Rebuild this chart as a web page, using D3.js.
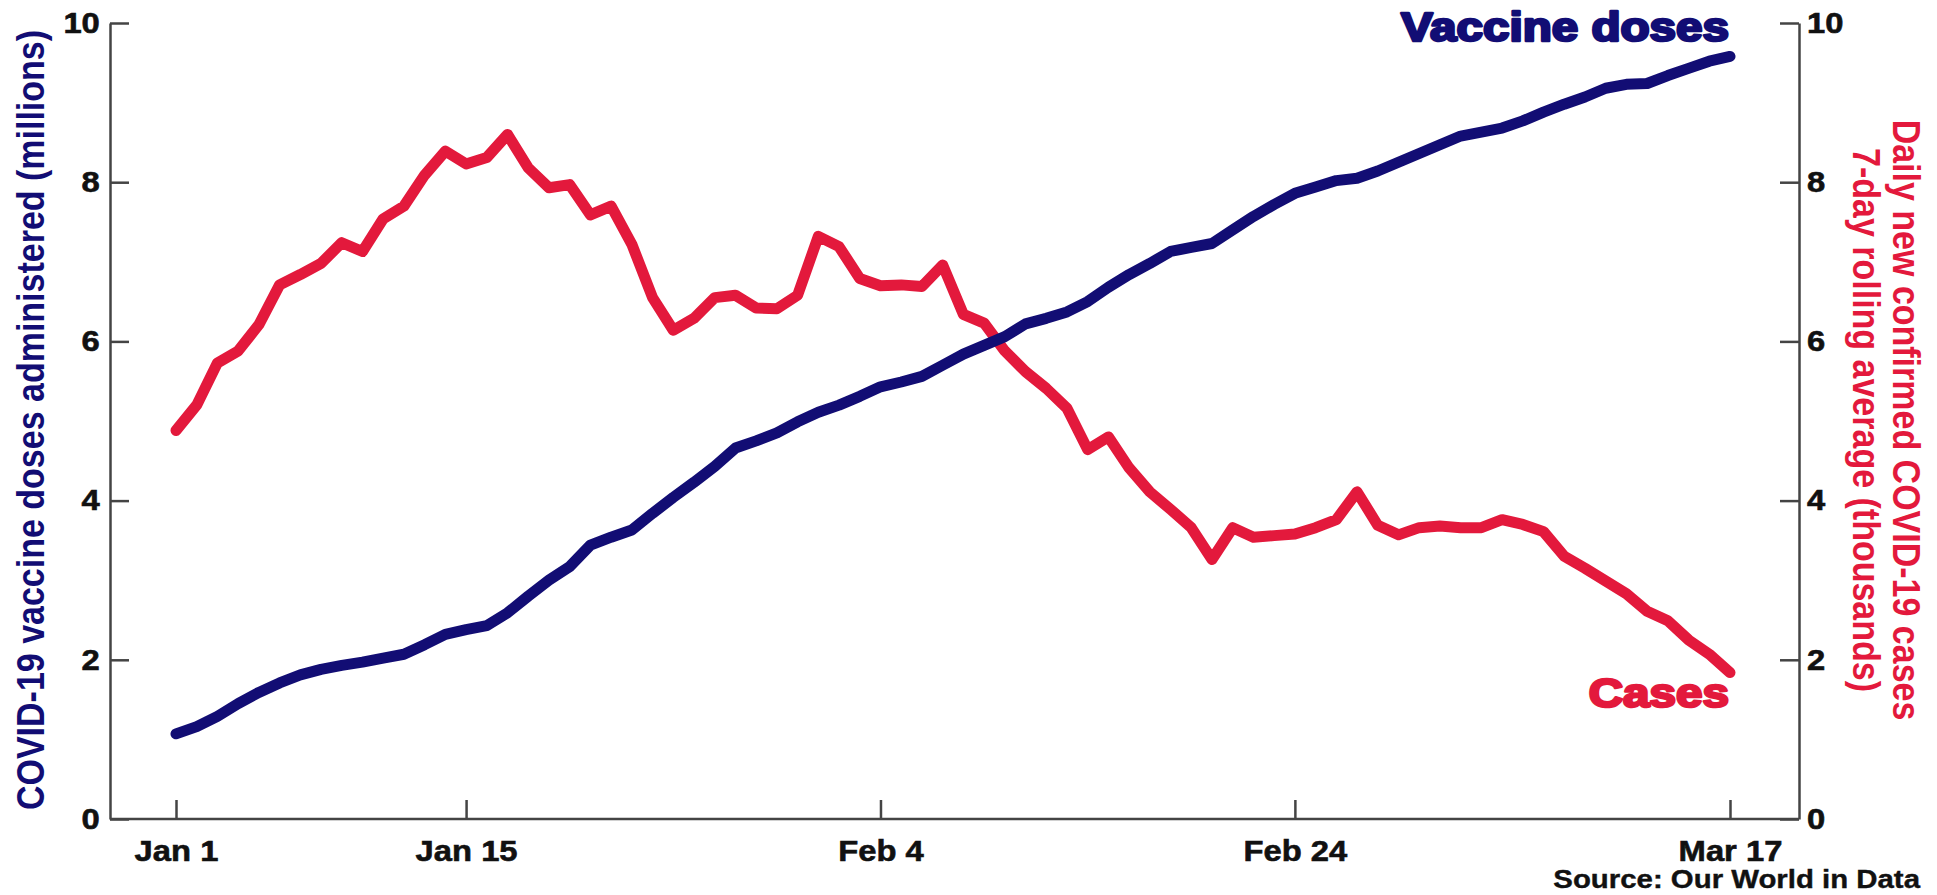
<!DOCTYPE html>
<html>
<head>
<meta charset="utf-8">
<script src="https://cdn.jsdelivr.net/npm/d3@7"></script>
<style>
  body { margin: 0; background: #fff; }
  text { font-family: "Liberation Sans", Arial, Helvetica, sans-serif; font-weight: bold; }
</style>
</head>
<body>
<div id="chart"></div>
<script>
// daily values, Jan 1 - Mar 17 2021
var vaccineDoses = [
  1.07, 1.16, 1.29, 1.45, 1.59, 1.71, 1.81, 1.88, 1.93, 1.97,
  2.02, 2.07, 2.19, 2.32, 2.38, 2.43, 2.59, 2.80, 3.00, 3.17,
  3.44, 3.54, 3.63, 3.84, 4.04, 4.23, 4.43, 4.66, 4.75, 4.85,
  4.99, 5.11, 5.20, 5.31, 5.43, 5.49, 5.56, 5.70, 5.84, 5.95,
  6.06, 6.22, 6.29, 6.37, 6.50, 6.68, 6.84, 6.98, 7.13, 7.18,
  7.23, 7.40, 7.57, 7.72, 7.86, 7.94, 8.02, 8.05, 8.14, 8.25,
  8.36, 8.47, 8.58, 8.63, 8.68, 8.77, 8.88, 8.98, 9.07, 9.18,
  9.23, 9.24, 9.34, 9.43, 9.52, 9.58
];

var cases = [
  4.88, 5.20, 5.73, 5.88, 6.21, 6.71, 6.84, 6.98, 7.24, 7.13,
  7.54, 7.70, 8.09, 8.39, 8.23, 8.31, 8.60, 8.18, 7.93, 7.97,
  7.59, 7.70, 7.22, 6.55, 6.14, 6.29, 6.55, 6.58, 6.42, 6.41,
  6.58, 7.32, 7.19, 6.79, 6.70, 6.71, 6.69, 6.96, 6.34, 6.23,
  5.88, 5.62, 5.41, 5.16, 4.64, 4.80, 4.41, 4.11, 3.89, 3.66,
  3.26, 3.66, 3.54, 3.56, 3.58, 3.66, 3.76, 4.11, 3.69, 3.57,
  3.66, 3.68, 3.66, 3.66, 3.76, 3.70, 3.61, 3.30, 3.15, 2.99,
  2.83, 2.61, 2.49, 2.25, 2.07, 1.84
];

var tickDates = ["2021-01-01", "2021-01-15", "2021-02-04", "2021-02-24", "2021-03-17"];
var tickLabels = ["Jan 1", "Jan 15", "Feb 4", "Feb 24", "Mar 17"];
var yTicks = [0, 2, 4, 6, 8, 10];

var navy = "#120d74",
    red = "#e3193c",
    axisColor = "#444";

var stretch = "scale(1.13,1)";  // the source fonts are set a little wide

var margin = {top: 23, right: 138, bottom: 76, left: 110},
    width = 1937 - margin.left - margin.right,
    height = 895 - margin.top - margin.bottom;

var parseDate = d3.timeParse("%Y-%m-%d");
var startDate = parseDate(tickDates[0]),
    endDate = parseDate(tickDates[tickDates.length - 1]);
var dates = d3.timeDay.range(startDate, d3.timeDay.offset(endDate, 1));

var doseData = dates.map(function(d, i) { return {date: d, value: vaccineDoses[i]}; });
var caseData = dates.map(function(d, i) { return {date: d, value: cases[i]}; });

var x = d3.scaleTime().domain([startDate, endDate]).range([66, 1620]);
var yLeft = d3.scaleLinear().domain([0, 10]).range([height, 0]);
var yRight = d3.scaleLinear().domain([0, 10]).range([height, 0]);

var xAxis = d3.axisBottom(x)
    .tickValues(tickDates.map(parseDate))
    .tickFormat(function(d, i) { return tickLabels[i]; })
    .tickSizeInner(-19).tickSizeOuter(0).tickPadding(21);

var yAxisLeft = d3.axisLeft(yLeft)
    .tickValues(yTicks).tickFormat(d3.format("d"))
    .tickSizeInner(-19).tickSizeOuter(0).tickPadding(9);

var yAxisRight = d3.axisRight(yRight)
    .tickValues(yTicks).tickFormat(d3.format("d"))
    .tickSizeInner(-19).tickSizeOuter(0).tickPadding(7);

var svgRoot = d3.select("#chart").append("svg")
    .attr("width", width + margin.left + margin.right)
    .attr("height", height + margin.top + margin.bottom)
    .style("display", "block")
    .style("background", "#fff");

var svg = svgRoot.append("g")
    .attr("transform", "translate(" + margin.left + "," + margin.top + ")");

function styleAxis(g) {
  g.selectAll("path, line").attr("stroke", axisColor).attr("stroke-width", 2.5);
  g.selectAll("text")
    .attr("fill", "#111")
    .attr("stroke", "#111")
    .attr("stroke-width", 0.6)
    .style("font-size", "29px")
    .attr("transform", stretch);
}

svg.append("g")
    .attr("class", "x axis")
    .attr("transform", "translate(0," + height + ")")
    .call(xAxis)
    .call(function(g) { g.select(".domain").remove(); })
    .call(styleAxis);

// full-width baseline
svg.append("line")
    .attr("x1", 0).attr("x2", width)
    .attr("y1", height).attr("y2", height)
    .attr("stroke", axisColor).attr("stroke-width", 2.5);

svg.append("g")
    .attr("class", "y axis")
    .call(yAxisLeft)
    .call(styleAxis);

svg.append("g")
    .attr("class", "y axis right")
    .attr("transform", "translate(" + width + ",0)")
    .call(yAxisRight)
    .call(styleAxis);

var lineLeft = d3.line()
    .x(function(d) { return x(d.date); })
    .y(function(d) { return yLeft(d.value); });

var lineRight = d3.line()
    .x(function(d) { return x(d.date); })
    .y(function(d) { return yRight(d.value); });

svg.append("path")
    .datum(caseData)
    .attr("fill", "none")
    .attr("stroke", red)
    .attr("stroke-width", 11)
    .attr("stroke-linejoin", "round")
    .attr("stroke-linecap", "round")
    .attr("d", lineRight);

svg.append("path")
    .datum(doseData)
    .attr("fill", "none")
    .attr("stroke", navy)
    .attr("stroke-width", 11)
    .attr("stroke-linejoin", "round")
    .attr("stroke-linecap", "round")
    .attr("d", lineLeft);

// series labels, set heavy
svg.append("text")
    .attr("transform", "translate(" + (x(endDate) - 1) + ",18) scale(1.19,1)")
    .attr("text-anchor", "end")
    .attr("fill", navy)
    .attr("stroke", navy)
    .attr("stroke-width", 2.6)
    .attr("stroke-linejoin", "round")
    .style("font-size", "40px")
    .text("Vaccine doses");

svg.append("text")
    .attr("transform", "translate(" + (x(endDate) - 1) + ",684) scale(1.19,1)")
    .attr("text-anchor", "end")
    .attr("fill", red)
    .attr("stroke", red)
    .attr("stroke-width", 2.6)
    .attr("stroke-linejoin", "round")
    .style("font-size", "40px")
    .text("Cases");

// axis titles
svgRoot.append("text")
    .attr("transform", "translate(44," + (margin.top + height / 2 - 1) + ") " + stretch + " rotate(-90)")
    .attr("text-anchor", "middle")
    .attr("fill", navy)
    .style("font-size", "34px")
    .text("COVID-19 vaccine doses administered (millions)");

var rightTitle = svgRoot.append("text")
    .attr("transform", "translate(1893," + (margin.top + height / 2 - 1) + ") " + stretch + " rotate(90)")
    .attr("text-anchor", "middle")
    .attr("fill", red)
    .style("font-size", "34px");

rightTitle.append("tspan").attr("x", 0).attr("y", 0)
    .text("Daily new confirmed COVID-19 cases");
rightTitle.append("tspan").attr("x", 0).attr("y", 35.5)
    .text("7-day rolling average (thousands)");

svgRoot.append("text")
    .attr("transform", "translate(1920,888) " + stretch)
    .attr("text-anchor", "end")
    .attr("fill", "#111")
    .attr("stroke", "#111")
    .attr("stroke-width", 0.4)
    .style("font-size", "26px")
    .text("Source: Our World in Data");
</script>
</body>
</html>
